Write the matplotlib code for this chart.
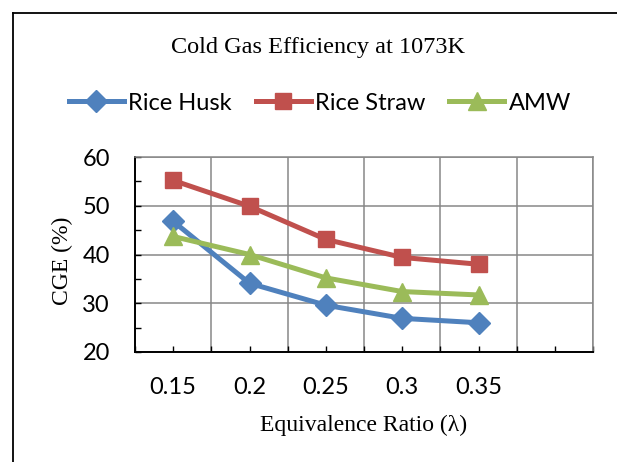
import matplotlib
matplotlib.use("Agg")
import matplotlib.pyplot as plt
from matplotlib.lines import Line2D
from matplotlib.ticker import FixedLocator, NullFormatter

# data
ratios = ["0.15", "0.2", "0.25", "0.3", "0.35"]
rice_husk = [46.8, 34.1, 29.6, 26.9, 26.0]
rice_straw = [55.2, 49.9, 43.1, 39.4, 38.0]
amw = [43.7, 40.0, 35.2, 32.4, 31.7]

W, H = 617, 462
fig = plt.figure(figsize=(W / 100, H / 100), dpi=100)
fig.patch.set_facecolor("white")

# plot area in pixels: left 135, right 593, top 157, bottom 352
ax = fig.add_axes([135 / W, 1 - 352 / H, (593 - 135) / W, (352 - 157) / H])

tick_font = "Lato"
serif = "Liberation Serif"
grid_col = "#878787"

x = list(range(len(ratios)))
ax.plot(x, rice_husk, color="#4F81BD", lw=3.6, marker="D", ms=11.5,
        label="Rice Husk", solid_joinstyle="round")
ax.plot(x, rice_straw, color="#C0504D", lw=3.6, marker="s", ms=11.5,
        label="Rice Straw", solid_joinstyle="round")
ax.plot(x, amw, color="#9BBB59", lw=3.6, marker="^", ms=13,
        label="AMW", solid_joinstyle="round")

ax.set_xlim(-0.5, 5.5)
ax.set_ylim(20, 60)

# category axis: boundaries as major (grid), centres as minor (labels)
ax.xaxis.set_major_locator(FixedLocator([i - 0.5 for i in range(7)]))
ax.xaxis.set_major_formatter(NullFormatter())
ax.xaxis.set_minor_locator(FixedLocator(list(range(6))))
ax.set_xticklabels(ratios + [""], minor=True)

ax.set_yticks([20, 30, 40, 50, 60])
ax.yaxis.set_minor_locator(FixedLocator([25, 35, 45, 55]))

ax.grid(True, which="major", color=grid_col, lw=1.1)
ax.set_axisbelow(True)

ax.tick_params(axis="both", which="both", direction="in", length=4.3,
               width=1.0, color="black")
ax.tick_params(axis="x", which="minor", pad=18, labelsize=17)
ax.tick_params(axis="x", which="major", pad=18)
ax.tick_params(axis="y", which="major", pad=18, labelsize=17)
for lab in ax.get_xticklabels(minor=True) + ax.get_yticklabels():
    lab.set_fontfamily(tick_font)

for side in ["left", "bottom"]:
    ax.spines[side].set_color("black")
    ax.spines[side].set_linewidth(1.4)
for side in ["top", "right"]:
    ax.spines[side].set_color(grid_col)
    ax.spines[side].set_linewidth(1.1)

fig.text(318 / W, 1 - 47 / H, "Cold Gas Efficiency at 1073K",
         family=serif, fontsize=17.5, ha="center", va="center")
fig.text(364 / W, 1 - 425 / H, "Equivalence Ratio (\u03bb)",
         family=serif, fontsize=17, ha="center", va="center")
fig.text(62 / W, 1 - 261 / H, "CGE (%)", family=serif, fontsize=17,
         rotation=90, ha="center", va="center")

fig.legend(loc="center", bbox_to_anchor=(320 / W, 1 - 103 / H), ncol=3,
           frameon=False, prop={"family": tick_font, "size": 17},
           handlelength=2.33, handletextpad=0.2, columnspacing=1.0,
           borderpad=0, borderaxespad=0)

# chart border (only left and top visible in the crop)
fig.add_artist(Line2D([13 / W, 13 / W], [0, 1 - 13 / H], color="black", lw=1.3))
fig.add_artist(Line2D([13 / W, 1], [1 - 13 / H, 1 - 13 / H], color="black", lw=1.3))

fig.savefig("out.png", dpi=100)
